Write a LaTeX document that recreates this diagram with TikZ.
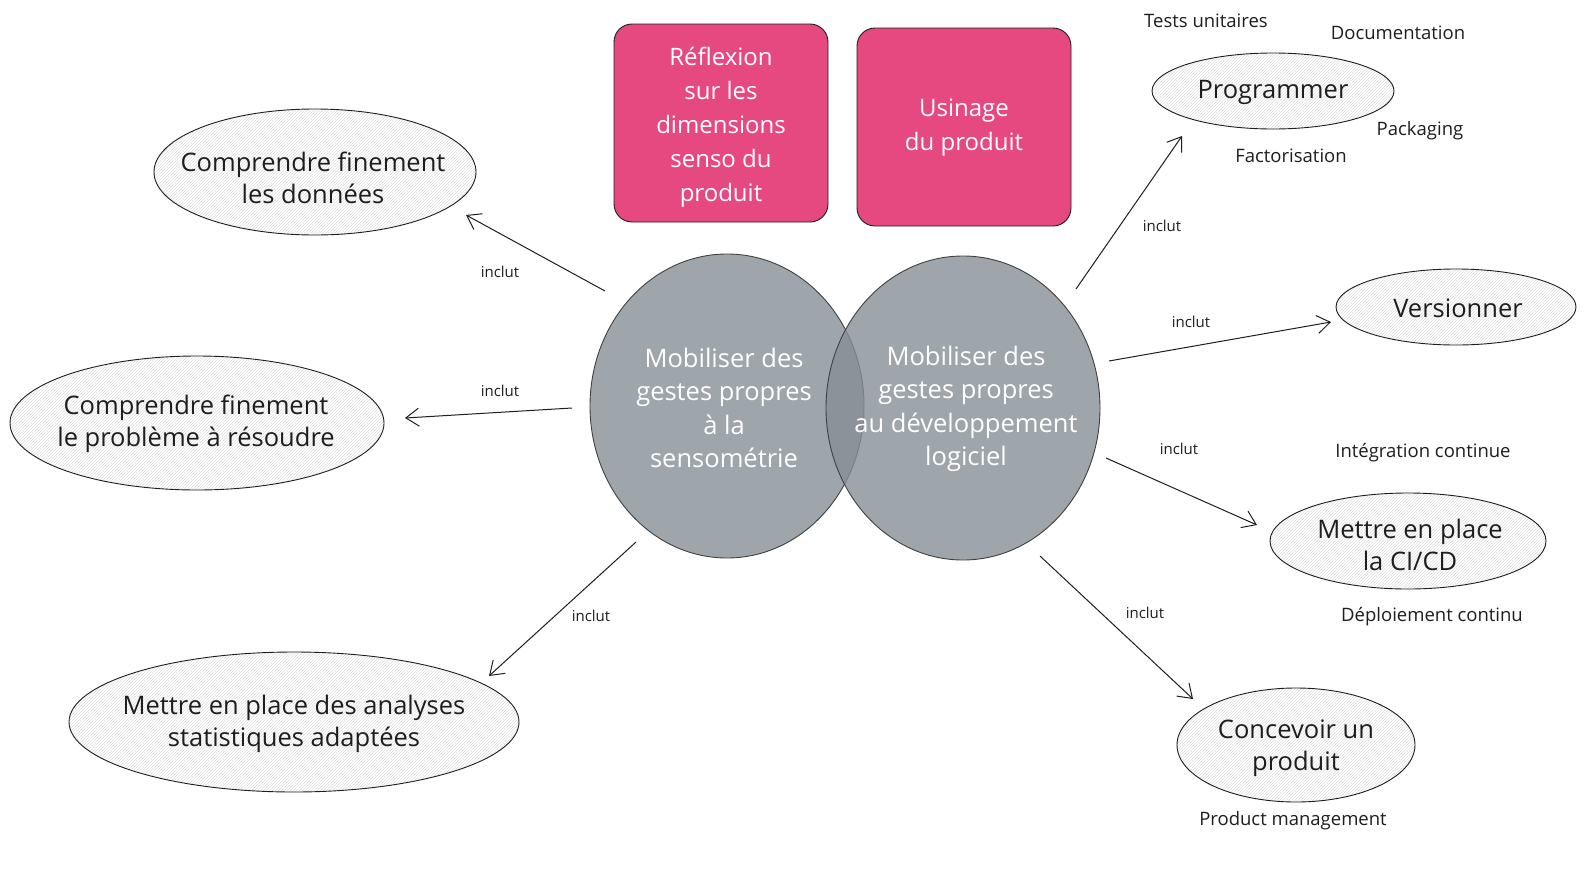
\documentclass[tikz,border=0pt]{standalone}
\usepackage{fontspec}
\setmainfont{Open Sans}
\usetikzlibrary{shapes.geometric,patterns,arrows.meta}
\definecolor{pinkbox}{HTML}{E64980}
\definecolor{circfill}{HTML}{868E96}
\definecolor{ink}{HTML}{1E1E1E}
\begin{document}
\begin{tikzpicture}[x=1pt,y=-1pt,
  bubble/.style={ellipse, draw=ink, line width=0.9pt, pattern=north east lines, pattern color=black!13, inner sep=0pt},
  btext/.style={align=center, text=ink, font=\fontsize{25.5}{32}\selectfont},
  circ/.style={ellipse, draw=black!75, line width=0.9pt, fill=circfill, fill opacity=0.8, minimum width=274, minimum height=304, inner sep=0pt},
  ctext/.style={align=center, text=white, font=\fontsize{25.5}{33.5}\selectfont},
  pbox/.style={rectangle, rounded corners=18pt, draw=ink, line width=0.9pt, fill=pinkbox, minimum width=214, minimum height=198},
  ptext/.style={align=center, text=white, font=\fontsize{24}{34}\selectfont},
  note/.style={text=ink, font=\fontsize{18.5}{20}\selectfont},
  lbl/.style={text=ink, font=\fontsize{15}{16}\selectfont},
  conn/.style={draw=ink, line width=1pt, -{Straight Barb[length=13pt,width=18pt,line width=1pt]}}
]
\useasboundingbox (0,0) rectangle (1587,889);

% central circles
\node[circ] (cl) at (727,406) {};
\node[circ] (cr) at (963,408) {};
\node[ctext] (tl) at (724,408) {Mobiliser des\\gestes propres\\à la\\sensométrie};
\node[ctext] (tr) at (966,409) {Mobiliser des\\gestes propres\\au développement\\logiciel};

% pink boxes
\node[pbox] (b1) at (721,123) {};
\node[ptext] at (b1) [yshift=-4pt] {Réflexion\\sur les\\dimensions\\senso du\\produit};
\node[pbox] (b2) at (964,127) {};
\node[ptext] at (b2) [yshift=-1pt] {Usinage\\du produit};

% left ellipses
\node[bubble, minimum width=322, minimum height=126] (e1) at (315,172) {};
\node[btext] at (313,178) {Comprendre finement\\les données};
\node[bubble, minimum width=374, minimum height=134] (e2) at (197,423) {};
\node[btext] at (196,424) {Comprendre finement\\le problème à résoudre};
\node[bubble, minimum width=450, minimum height=140] (e3) at (294,722) {};
\node[btext] at (294,724) {Mettre en place des analyses\\statistiques adaptées};

% right ellipses
\node[bubble, minimum width=242, minimum height=76] (e4) at (1273,91) {};
\node[btext] at (1273,92) {Programmer};
\node[bubble, minimum width=240, minimum height=76] (e5) at (1456,307) {};
\node[btext] at (1458,308) {Versionner};
\node[bubble, minimum width=276, minimum height=96] (e6) at (1408,541) {};
\node[btext] at (1410,545) {Mettre en place\\la CI/CD};
\node[bubble, minimum width=238, minimum height=114] (e7) at (1296,745) {};
\node[btext] at (1296,748) {Concevoir un\\produit};

% side notes
\node[note] (n1) at (1206,21) {Tests unitaires};
\node[note] (n2) at (1398,33) {Documentation};
\node[note] (n3) at (1420,131) {Packaging};
\node[note] (n4) at (1291,156) {Factorisation};
\node[note] (n5) at (1423,453) {Intégration continue};
\node[note] (n6) at (1432,617) {Déploiement continu};
\node[note] (n7) at (1293,821) {Product management};

% connector end points
\coordinate (s1) at (605,291);  \coordinate (t1) at (466,215);
\coordinate (s2) at (572,408);  \coordinate (t2) at (405,418);
\coordinate (s3) at (636,542);  \coordinate (t3) at (489,676);
\coordinate (s4) at (1076,289); \coordinate (t4) at (1182,136);
\coordinate (s5) at (1109,361); \coordinate (t5) at (1331,322);
\coordinate (s6) at (1106,458); \coordinate (t6) at (1257,525);
\coordinate (s7) at (1040,556); \coordinate (t7) at (1193,699);

\draw[conn] (s1) -- (t1);
\draw[conn] (s2) -- (t2);
\draw[conn] (s3) -- (t3);
\draw[conn] (s4) -- (t4);
\draw[conn] (s5) -- (t5);
\draw[conn] (s6) -- (t6);
\draw[conn] (s7) -- (t7);

\node[lbl] (l1) at (500,272) {inclut};
\node[lbl] (l2) at (500,391) {inclut};
\node[lbl] (l3) at (591,616) {inclut};
\node[lbl] (l4) at (1162,226) {inclut};
\node[lbl] (l5) at (1191,322) {inclut};
\node[lbl] (l6) at (1179,449) {inclut};
\node[lbl] (l7) at (1145,613) {inclut};
\end{tikzpicture}
\end{document}
